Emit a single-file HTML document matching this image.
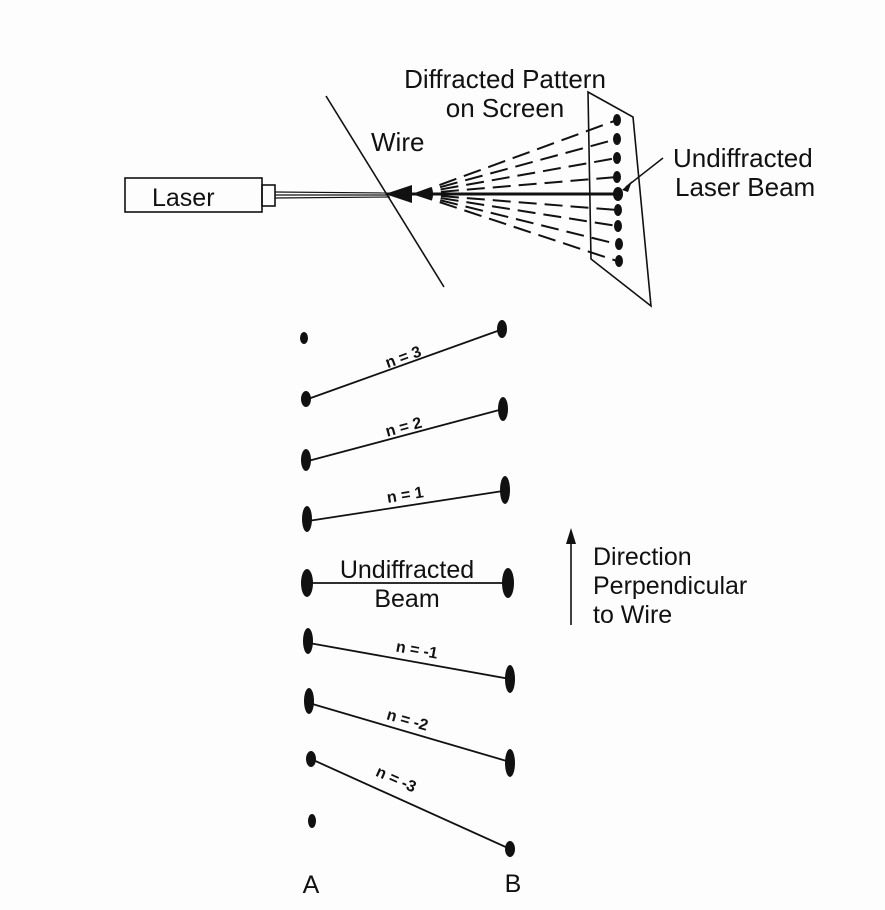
<!DOCTYPE html>
<html><head><style>
html,body{margin:0;padding:0;background:#fff;}
svg{display:block;}
text{font-family:"Liberation Sans",Arial,sans-serif;fill:#111;}
</style></head><body>
<svg width="885" height="910" viewBox="0 0 885 910" xmlns="http://www.w3.org/2000/svg">
<rect width="885" height="910" fill="#fdfdfd"/>
<g stroke="#111" fill="none" stroke-width="1.6">
<rect x="125" y="178" width="137" height="34"/>
<rect x="262" y="185" width="13" height="21"/>
<line x1="326" y1="96" x2="444" y2="287"/>
<polygon points="588,92 633,117 651,306 591,259"/>
<line x1="275" y1="192" x2="390" y2="193" stroke-width="1.2"/>
<line x1="275" y1="195" x2="390" y2="195" stroke-width="1.2"/>
<line x1="275" y1="198" x2="390" y2="197" stroke-width="1.2"/>
<line x1="390" y1="194" x2="617" y2="194" stroke-width="3"/>
<g stroke-dasharray="18,8" stroke-width="2">
<line x1="415" y1="194" x2="617" y2="120"/>
<line x1="415" y1="194" x2="617" y2="139"/>
<line x1="415" y1="194" x2="617" y2="158"/>
<line x1="415" y1="194" x2="617" y2="177"/>
<line x1="415" y1="194" x2="617" y2="210"/>
<line x1="415" y1="194" x2="617" y2="226"/>
<line x1="415" y1="194" x2="617" y2="244"/>
<line x1="415" y1="194" x2="617" y2="261"/>
</g>
<line x1="663" y1="158" x2="626" y2="187" stroke-width="1.5"/>
</g>
<polygon points="385,194 412,185 412,203" fill="#111"/>
<polygon points="622,190 632,181 628,192" fill="#111"/>
<g fill="#111">
<ellipse cx="617" cy="120" rx="4" ry="6"/>
<ellipse cx="617" cy="139" rx="4" ry="6"/>
<ellipse cx="617" cy="158" rx="4" ry="6"/>
<ellipse cx="617" cy="177" rx="4" ry="6"/>
<ellipse cx="618" cy="194" rx="5" ry="7"/>
<ellipse cx="618" cy="210" rx="4" ry="6"/>
<ellipse cx="618" cy="226" rx="4" ry="6"/>
<ellipse cx="619" cy="244" rx="4" ry="6"/>
<ellipse cx="619" cy="261" rx="4" ry="6"/>
</g>
<text x="505" y="88" font-size="26" text-anchor="middle">Diffracted Pattern</text>
<text x="505" y="117" font-size="26" text-anchor="middle">on Screen</text>
<text x="371" y="151" font-size="26">Wire</text>
<text x="673" y="167" font-size="26">Undiffracted</text>
<text x="675" y="196" font-size="26">Laser Beam</text>
<text x="152" y="206" font-size="25">Laser</text>

<g stroke="#111" stroke-width="1.8">
<line x1="308" y1="399" x2="503" y2="329"/>
<line x1="308" y1="461" x2="503" y2="409"/>
<line x1="308" y1="521" x2="503" y2="491"/>
<line x1="308" y1="583" x2="507" y2="583"/>
<line x1="309" y1="643" x2="510" y2="679"/>
<line x1="309" y1="703" x2="510" y2="762"/>
<line x1="311" y1="759" x2="510" y2="849"/>
<line x1="571" y1="625" x2="571" y2="540" stroke-width="1.6"/>
</g>
<polygon points="571,528 566,544 576,544" fill="#111"/>
<g fill="#111">
<ellipse cx="304" cy="338" rx="4" ry="6"/>
<ellipse cx="306" cy="399" rx="5" ry="8"/>
<ellipse cx="306" cy="460" rx="5" ry="11"/>
<ellipse cx="307" cy="519" rx="5" ry="13"/>
<ellipse cx="307" cy="583" rx="6" ry="14"/>
<ellipse cx="308" cy="641" rx="5" ry="13"/>
<ellipse cx="309" cy="701" rx="5" ry="13"/>
<ellipse cx="311" cy="759" rx="5" ry="8"/>
<ellipse cx="312" cy="821" rx="4" ry="7"/>
<ellipse cx="502" cy="329" rx="5" ry="9"/>
<ellipse cx="503" cy="409" rx="5" ry="12"/>
<ellipse cx="505" cy="490" rx="5" ry="14"/>
<ellipse cx="508" cy="583" rx="6" ry="15"/>
<ellipse cx="510" cy="679" rx="5" ry="14"/>
<ellipse cx="510" cy="763" rx="5" ry="14"/>
<ellipse cx="510" cy="849" rx="5" ry="8"/>
</g>
<g font-size="16" font-weight="bold">
<text x="0" y="0" text-anchor="middle" transform="translate(405,362) rotate(-20)">n = 3</text>
<text x="0" y="0" text-anchor="middle" transform="translate(405,432) rotate(-15)">n = 2</text>
<text x="0" y="0" text-anchor="middle" transform="translate(406,500) rotate(-9)">n = 1</text>
<text x="0" y="0" text-anchor="middle" transform="translate(416,655) rotate(10)">n = -1</text>
<text x="0" y="0" text-anchor="middle" transform="translate(406,725) rotate(16)">n = -2</text>
<text x="0" y="0" text-anchor="middle" transform="translate(394,784) rotate(24)">n = -3</text>
</g>
<text x="407" y="578" font-size="25" text-anchor="middle">Undiffracted</text>
<text x="407" y="607" font-size="25" text-anchor="middle">Beam</text>
<text x="593" y="565" font-size="25">Direction</text>
<text x="593" y="594" font-size="25">Perpendicular</text>
<text x="593" y="623" font-size="25">to Wire</text>
<text x="311" y="893" font-size="25" text-anchor="middle">A</text>
<text x="513" y="892" font-size="25" text-anchor="middle">B</text>
</svg>
</body></html>
